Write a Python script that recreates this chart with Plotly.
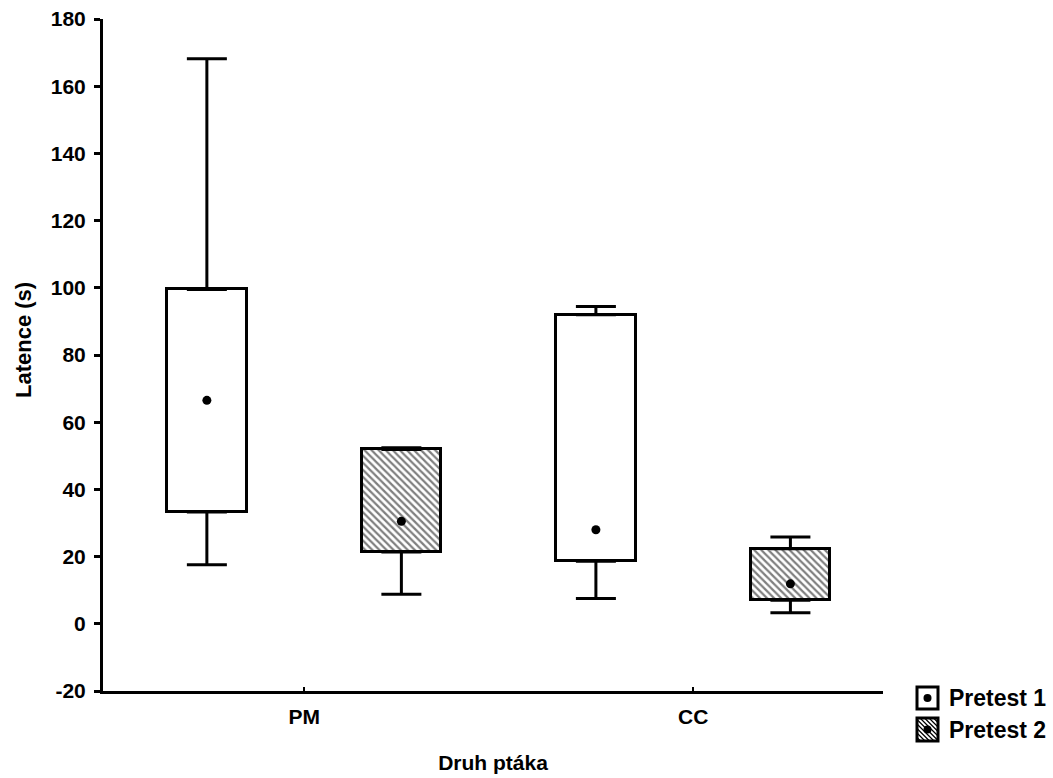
import plotly.graph_objects as go

# Species (x categories) and the two pretest series
species = ["PM", "CC"]
series_names = ["Pretest 1", "Pretest 2"]
y_ticks = [-20, 0, 20, 40, 60, 80, 100, 120, 140, 160, 180]
y_tick_text = ["-20", "0", "20", "40", "60", "80", "100", "120", "140", "160", "180"]

# Latency summaries per species: median, quartiles, min, max (seconds)
p1_median = [66.5, 28.0]
p1_q1 = [33.3, 18.6]
p1_q3 = [99.5, 92.0]
p1_min = [17.6, 7.5]
p1_max = [168.2, 94.4]

p2_median = [30.5, 11.9]
p2_q1 = [21.4, 7.0]
p2_q3 = [51.9, 22.3]
p2_min = [8.8, 3.3]
p2_max = [52.4, 25.8]

FONT = "Liberation Sans, Arial, sans-serif"
LW = 3
OFFSET = 0.25
BOX_W = 0.205
HATCH = dict(shape="\\", fgcolor="black", bgcolor="white", size=5, solidity=0.45)

W, H = 1053, 778
ML, MR, MT, MB = 103, 170, 19, 87
PW, PH = W - ML - MR, H - MT - MB

series = [
    dict(name=series_names[0], med=p1_median, q1=p1_q1, q3=p1_q3, lo=p1_min, hi=p1_max,
         shift=-OFFSET, hatched=False),
    dict(name=series_names[1], med=p2_median, q1=p2_q1, q3=p2_q3, lo=p2_min, hi=p2_max,
         shift=OFFSET, hatched=True),
]

fig = go.Figure()
for s in series:
    xs = [i + s["shift"] for i in range(len(species))]
    marker = dict(color="white", line=dict(color="black", width=LW))
    if s["hatched"]:
        marker["pattern"] = HATCH
    # box: 25%-75% range
    fig.add_trace(go.Bar(
        x=xs, base=s["q1"], y=[b - a for a, b in zip(s["q1"], s["q3"])],
        width=BOX_W, marker=marker, name=s["name"], showlegend=False,
    ))
    # upper whisker from box top to max
    fig.add_trace(go.Scatter(
        x=xs, y=s["q3"], mode="markers",
        marker=dict(size=1, color="rgba(0,0,0,0)"),
        error_y=dict(type="data", symmetric=False,
                     array=[h - q for h, q in zip(s["hi"], s["q3"])],
                     arrayminus=[0] * len(xs),
                     color="black", thickness=LW, width=20),
        showlegend=False, hoverinfo="skip",
    ))
    # lower whisker from box bottom to min
    fig.add_trace(go.Scatter(
        x=xs, y=s["q1"], mode="markers",
        marker=dict(size=1, color="rgba(0,0,0,0)"),
        error_y=dict(type="data", symmetric=False,
                     array=[0] * len(xs),
                     arrayminus=[q - l for q, l in zip(s["q1"], s["lo"])],
                     color="black", thickness=LW, width=20),
        showlegend=False, hoverinfo="skip",
    ))
    # median point
    fig.add_trace(go.Scatter(
        x=xs, y=s["med"], mode="markers",
        marker=dict(size=9, color="black"),
        showlegend=False,
    ))


# --- legend and y title placed by hand in paper coordinates (pixel helpers) ---
def px(x):
    return (x - ML) / PW


def py(y):
    return (H - MB - y) / PH


shapes = []
annotations = [dict(text="<b>Latence (s)</b>", xref="paper", yref="paper",
                    x=px(23), y=py(340), xanchor="center", yanchor="middle",
                    textangle=-90, showarrow=False,
                    font=dict(family=FONT, size=22, color="black"))]
legend_rows = [(series_names[0], 687, 709, False), (series_names[1], 718, 741, True)]
sx0, sx1 = 917, 938
for name, y0, y1, hatched in legend_rows:
    if hatched:
        segs = []
        c = y0 - sx1
        while c <= y1 - sx0:
            a = max(sx0, y0 - c)
            b = min(sx1, y1 - c)
            if a < b:
                segs.append(f"M{px(a)},{py(a + c)}L{px(b)},{py(b + c)}")
            c += 4.5
        shapes.append(dict(type="path", xref="paper", yref="paper", path="".join(segs),
                           line=dict(color="black", width=1.2)))
    shapes.append(dict(type="rect", xref="paper", yref="paper",
                       x0=px(sx0), x1=px(sx1), y0=py(y1), y1=py(y0),
                       line=dict(color="black", width=LW),
                       fillcolor="rgba(0,0,0,0)" if hatched else "white"))
    cx, cy = (sx0 + sx1) / 2, (y0 + y1) / 2
    shapes.append(dict(type="circle", xref="paper", yref="paper",
                       x0=px(cx - 4), x1=px(cx + 4), y0=py(cy + 4), y1=py(cy - 4),
                       line=dict(color="black", width=0), fillcolor="black"))
    annotations.append(dict(text=f"<b>{name}</b>", xref="paper", yref="paper",
                            x=px(947), y=py(cy), xanchor="left", yanchor="middle",
                            showarrow=False,
                            font=dict(family=FONT, size=23, color="black")))

fig.update_layout(
    width=W, height=H,
    margin=dict(l=ML, r=MR, t=MT, b=MB, autoexpand=False),
    paper_bgcolor="white", plot_bgcolor="white",
    barmode="overlay", bargap=0,
    font=dict(family=FONT, size=21, color="black"),
    showlegend=False,
    shapes=shapes,
    annotations=annotations,
    xaxis=dict(
        range=[-0.517, 1.488], tickmode="array",
        tickvals=list(range(len(species))), ticktext=species,
        showgrid=False, zeroline=False, automargin=False,
        showline=True, linecolor="black", linewidth=LW,
        ticks="inside", ticklen=4, tickwidth=2, tickcolor="black",
        ticklabelstandoff=5,
        tickfont=dict(family=FONT, size=21, color="black", weight="bold"),
        title=dict(text="<b>Druh ptáka</b>", standoff=29,
                   font=dict(family=FONT, size=21, color="black")),
    ),
    yaxis=dict(
        range=[-20, 180], tickmode="array",
        tickvals=y_ticks, ticktext=y_tick_text,
        showgrid=False, zeroline=False, automargin=False,
        showline=True, linecolor="black", linewidth=LW,
        ticks="outside", ticklen=6, tickwidth=LW, tickcolor="black",
        ticklabelstandoff=4,
        tickfont=dict(family=FONT, size=21, color="black", weight="bold"),
    ),
)

fig.write_html("out.html")
